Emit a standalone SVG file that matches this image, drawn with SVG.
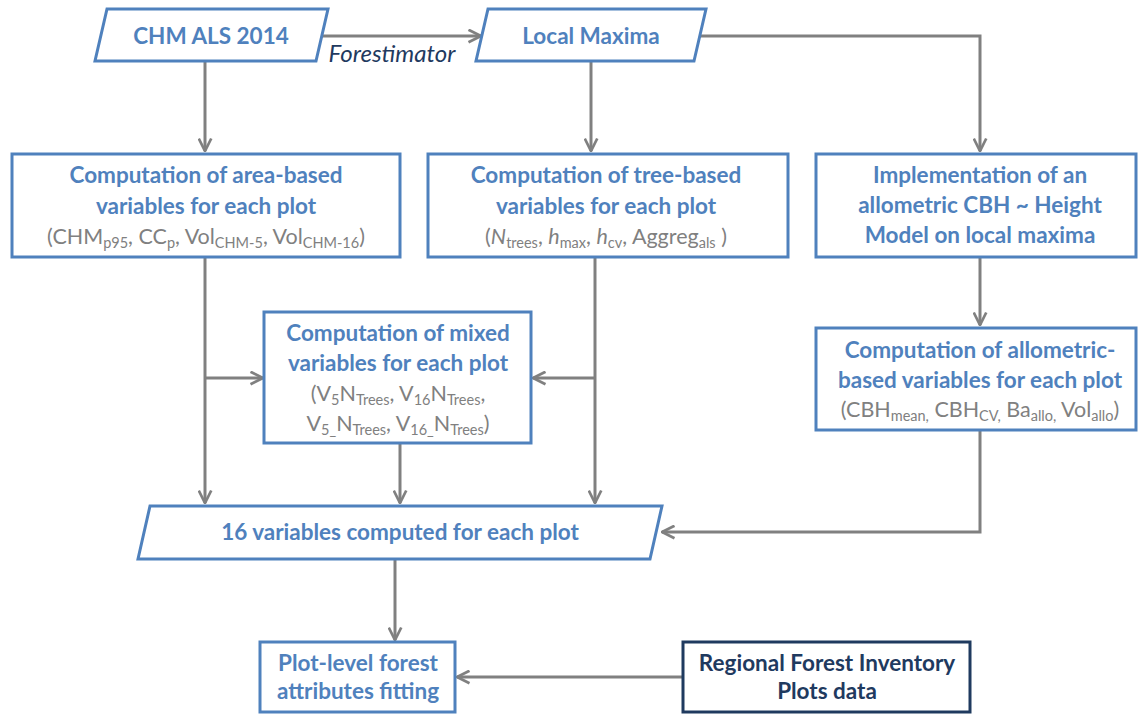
<svg xmlns="http://www.w3.org/2000/svg" width="1139" height="716" viewBox="0 0 1139 716">
<style>
.bx{fill:#fff;stroke:#4f81bd;stroke-width:3}
.bxd{fill:#fff;stroke:#1f3a5f;stroke-width:3}
.t{font-family:Lato,"Open Sans",sans-serif;font-weight:bold;font-size:22.5px;fill:#4f81bd;text-anchor:middle}
.td{font-family:Lato,"Open Sans",sans-serif;font-weight:bold;font-size:22.5px;fill:#1f3a5f;text-anchor:middle}
.g{font-family:Lato,"Open Sans",sans-serif;font-size:21.5px;fill:#808080;text-anchor:middle}
.s{font-size:14.5px}
.c{fill:none;stroke:#808080;stroke-width:3}
.lab{font-family:Lato,"Open Sans",sans-serif;font-style:italic;font-size:24px;fill:#1f3a5f;text-anchor:middle}
</style>
<defs>
<marker id="ah" viewBox="0 0 12 12" refX="11" refY="6" markerWidth="5" markerHeight="5" orient="auto" markerUnits="strokeWidth">
<path d="M1,1 L11,6 L1,11" fill="none" stroke="#808080" stroke-width="2.2"/>
</marker>
</defs>
<g id="connectors">
<path class="c" d="M322,36 H481" marker-end="url(#ah)"/>
<text class="lab" x="392" y="62">Forestimator</text>
<path class="c" d="M700,36 H980 V151" marker-end="url(#ah)"/>
<path class="c" d="M205,61 V151" marker-end="url(#ah)"/>
<path class="c" d="M591,61 V151" marker-end="url(#ah)"/>
<path class="c" d="M980,257 V325" marker-end="url(#ah)"/>
<path class="c" d="M205,257 V503" marker-end="url(#ah)"/>
<path class="c" d="M205,378 H263" marker-end="url(#ah)"/>
<path class="c" d="M595,257 V503" marker-end="url(#ah)"/>
<path class="c" d="M595,378 H533" marker-end="url(#ah)"/>
<path class="c" d="M400,443 V503" marker-end="url(#ah)"/>
<path class="c" d="M980,430 V532 H662" marker-end="url(#ah)"/>
<path class="c" d="M395,560 V640" marker-end="url(#ah)"/>
<path class="c" d="M683,677 H457" marker-end="url(#ah)"/>
</g>
<g id="chm">
<path class="bx" d="M107,9 H328 L316,61 H95 Z"/>
<text class="t" x="211" y="44">CHM ALS 2014</text>
</g>
<g id="localmax">
<path class="bx" d="M488,9 H706 L694,61 H476 Z"/>
<text class="t" x="591" y="44">Local Maxima</text>
</g>
<g id="area">
<rect class="bx" x="12" y="154" width="388" height="103"/>
<text class="t" x="206" y="183">Computation of area-based</text>
<text class="t" x="206" y="214">variables for each plot</text>
<text class="g" x="206" y="244">(CHM<tspan class="s" dy="4">p95</tspan><tspan dy="-4">, CC</tspan><tspan class="s" dy="4">p</tspan><tspan dy="-4">, Vol</tspan><tspan class="s" dy="4">CHM-5</tspan><tspan dy="-4">, Vol</tspan><tspan class="s" dy="4">CHM-16</tspan><tspan dy="-4">)</tspan></text>
</g>
<g id="tree">
<rect class="bx" x="428" y="154" width="360" height="103"/>
<text class="t" x="606" y="183">Computation of tree-based</text>
<text class="t" x="606" y="214">variables for each plot</text>
<text class="g" x="606" y="244">(<tspan font-style="italic">N</tspan><tspan class="s" dy="4">trees</tspan><tspan dy="-4">, </tspan><tspan font-style="italic">h</tspan><tspan class="s" dy="4">max</tspan><tspan dy="-4">, </tspan><tspan font-style="italic">h</tspan><tspan class="s" dy="4">cv</tspan><tspan dy="-4">, Aggreg</tspan><tspan class="s" dy="4">als</tspan><tspan dy="-4"> )</tspan></text>
</g>
<g id="implement">
<rect class="bx" x="816" y="154" width="320" height="103"/>
<text class="t" x="980" y="183">Implementation of an</text>
<text class="t" x="980" y="213">allometric CBH ~ Height</text>
<text class="t" x="980" y="243">Model on local maxima</text>
</g>
<g id="allometric">
<rect class="bx" x="816" y="328" width="320" height="102"/>
<text class="t" x="980" y="358">Computation of allometric-</text>
<text class="t" x="980" y="388">based variables for each plot</text>
<text class="g" x="980" y="417">(CBH<tspan class="s" dy="4">mean,</tspan><tspan dy="-4"> CBH</tspan><tspan class="s" dy="4">CV,</tspan><tspan dy="-4"> Ba</tspan><tspan class="s" dy="4">allo,</tspan><tspan dy="-4"> Vol</tspan><tspan class="s" dy="4">allo</tspan><tspan dy="-4">)</tspan></text>
</g>
<g id="mixed">
<rect class="bx" x="264" y="312" width="267" height="131"/>
<text class="t" x="398" y="341">Computation of mixed</text>
<text class="t" x="398" y="371">variables for each plot</text>
<text class="g" x="398" y="401">(V<tspan class="s" dy="4">5</tspan><tspan dy="-4">N</tspan><tspan class="s" dy="4">Trees</tspan><tspan dy="-4">, V</tspan><tspan class="s" dy="4">16</tspan><tspan dy="-4">N</tspan><tspan class="s" dy="4">Trees</tspan><tspan dy="-4">,</tspan></text>
<text class="g" x="398" y="431">V<tspan class="s" dy="4">5_</tspan><tspan dy="-4">N</tspan><tspan class="s" dy="4">Trees</tspan><tspan dy="-4">, V</tspan><tspan class="s" dy="4">16_</tspan><tspan dy="-4">N</tspan><tspan class="s" dy="4">Trees</tspan><tspan dy="-4">)</tspan></text>
</g>
<g id="sixteen">
<path class="bx" d="M150,506 H662 L650,559 H138 Z"/>
<text class="t" x="400" y="540">16 variables computed for each plot</text>
</g>
<g id="plotlevel">
<rect class="bx" x="260" y="642" width="195" height="70"/>
<text class="t" x="358" y="671">Plot-level forest</text>
<text class="t" x="358" y="699">attributes fitting</text>
</g>
<g id="regional">
<rect class="bxd" x="683" y="642" width="287" height="70"/>
<text class="td" x="827" y="671">Regional Forest Inventory</text>
<text class="td" x="827" y="699">Plots data</text>
</g>
</svg>
